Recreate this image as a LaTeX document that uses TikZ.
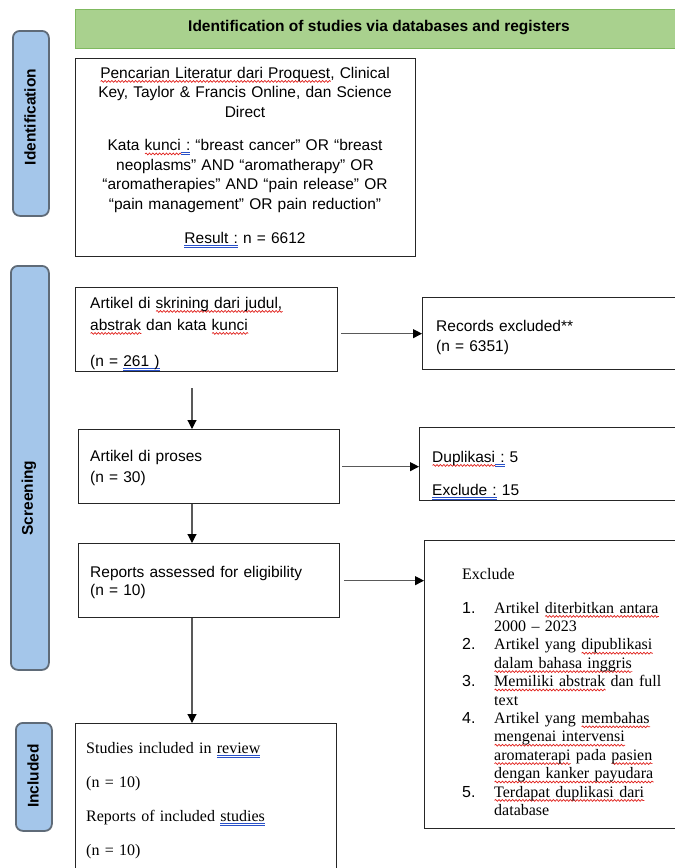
\documentclass[tikz,border=0pt]{standalone}
\usepackage{fontspec}
\setmainfont{Liberation Sans}
\newfontfamily\tnr{Liberation Serif}
\newfontfamily\arl{Liberation Sans}
\usetikzlibrary{arrows.meta,decorations.pathmorphing}
\definecolor{hdrfill}{HTML}{A9D18E}
\definecolor{hdrline}{HTML}{7FB95F}
\definecolor{lblfill}{HTML}{A4C6EA}
\definecolor{lblline}{HTML}{5F6B78}
\definecolor{arrline}{HTML}{595959}
\definecolor{boxline}{HTML}{262626}
\definecolor{wavered}{HTML}{E0201B}
\definecolor{ulblue}{HTML}{2850C8}
\newsavebox\ulbox
\newcommand\rw[1]{\sbox\ulbox{#1}\leavevmode\rlap{\tikz[baseline=0pt]\draw[wavered,line width=0.7pt,decorate,decoration={snake,amplitude=0.9pt,segment length=3.4pt}] (0pt,-3.4pt) -- (\wd\ulbox,-3.4pt);}\usebox\ulbox}
\newcommand\bu[1]{\sbox\ulbox{#1}\leavevmode\rlap{\color{ulblue}\rule[-2.4pt]{\wd\ulbox}{0.8pt}}\rlap{\color{ulblue}\rule[-4.6pt]{\wd\ulbox}{0.8pt}}\usebox\ulbox}
\newcommand\nm[1]{\makebox[32pt][l]{\arl #1}}
\begin{document}
\begin{tikzpicture}[x=1pt,y=-1pt,
  font=\fontsize{15.5}{19.5}\selectfont,
  box/.style={draw=boxline,line width=1.3pt,inner sep=0pt,anchor=north west},
  lbl/.style={draw=lblline,fill=lblfill,line width=1.8pt,rounded corners=7pt,inner sep=0pt,anchor=north west},
  lbltext/.style={rotate=90,font=\bfseries\fontsize{15.5}{18}\selectfont,inner sep=0pt},
  txt/.style={inner sep=0pt,anchor=base west,align=left},
  arr/.style={draw=arrline,line width=1.1pt,-{Triangle[length=9pt,width=9pt,fill=black,color=black]}}]
\useasboundingbox (0,0) rectangle (675,868);
% header
\node[draw=hdrline,fill=hdrfill,line width=1.3pt,anchor=north west,minimum width=620pt,minimum height=39pt,inner sep=0pt] (hdr) at (75,9) {};
\node[font=\bfseries\fontsize{15.5}{18}\selectfont,inner sep=0pt] (hdrt) at (379,28) {Identification of studies via databases and registers};
% side labels
\node[lbl,minimum width=36pt,minimum height=185pt] (lid) at (12,30) {};
\node[lbltext] (lidt) at (30,117) {Identification};
\node[lbl,minimum width=38pt,minimum height=404pt] (lsc) at (10,265) {};
\node[lbltext] (lsct) at (29,498) {Screening};
\node[lbl,minimum width=36pt,minimum height=108pt] (lin) at (15,722) {};
\node[lbltext] (lint) at (33,776) {Included};
% boxes
\node[box,minimum width=340pt,minimum height=198pt] (b1) at (75,58) {};
\node[box,minimum width=262pt,minimum height=84pt] (b2) at (75,287) {};
\node[box,minimum width=280pt,minimum height=72pt] (rec) at (422,297) {};
\node[box,minimum width=261pt,minimum height=74pt] (b3) at (78,429) {};
\node[box,minimum width=283pt,minimum height=73pt] (dup) at (419,427) {};
\node[box,minimum width=261pt,minimum height=74pt] (b4) at (78,543) {};
\node[box,minimum width=280pt,minimum height=288pt] (exc) at (424,540) {};
\node[box,minimum width=261pt,minimum height=160pt] (b5) at (75,723) {};
% texts
\node[inner sep=0pt,anchor=base,text width=330pt,align=center] (t1) at (245,78)
 {\rw{Pencarian Literatur dari Proquest}, Clinical\\ Key, Taylor \& Francis Online, dan Science\\ Direct\\[14pt]
  Kata \rw{kunci}\bu{ :} “breast cancer” OR “breast\\ neoplasms” AND “aromatherapy” OR\\
  “aromatherapies” AND “pain release” OR\\ “pain management” OR pain reduction”\\[15pt]
  \bu{Result :} n = 6612};
\node[txt,text width=240pt,font=\fontsize{15.5}{22}\selectfont] (t2) at (90,308)
 {Artikel di \rw{skrining dari judul,}\\ \rw{abstrak} dan kata \rw{kunci}\\[14pt] (n = \bu{261 )}};
\node[txt,text width=230pt,font=\fontsize{15.5}{20}\selectfont] (trec) at (436,331) {Records excluded**\\ (n = 6351)};
\node[txt,text width=240pt,font=\fontsize{15.5}{21}\selectfont] (t3) at (90,461) {Artikel di proses\\ (n = 30)};
\node[txt,text width=230pt,font=\fontsize{15.5}{20}\selectfont] (tdup) at (432,462) {\rw{Duplikasi}\bu{ :} 5\\[13pt] \bu{Exclude :} 15};
\node[txt,text width=240pt,font=\fontsize{15.5}{18}\selectfont] (t4) at (90,577) {Reports assessed for eligibility\\ (n = 10)};
\node[txt,text width=240pt,font=\tnr\fontsize{16}{18.4}\selectfont] (texc) at (462,579)
 {Exclude\\[15.6pt]
  \nm{1.}Artikel \rw{diterbitkan antara}\\
  \hspace*{32pt}2000 – 2023\\
  \nm{2.}Artikel yang \rw{dipublikasi}\\
  \hspace*{32pt}\rw{dalam bahasa inggris}\\
  \nm{3.}\rw{Memiliki abstrak} dan full\\
  \hspace*{32pt}text\\
  \nm{4.}Artikel yang \rw{membahas}\\
  \hspace*{32pt}\rw{mengenai intervensi}\\
  \hspace*{32pt}\rw{aromaterapi} pada \rw{pasien}\\
  \hspace*{32pt}\rw{dengan kanker payudara}\\
  \nm{5.}\rw{Terdapat duplikasi dari}\\
  \hspace*{32pt}database};
\node[txt,text width=240pt,font=\tnr\fontsize{16}{34}\selectfont] (t5) at (86,753)
 {Studies included in \bu{review}\\ (n = 10)\\ Reports of included \bu{studies}\\ (n = 10)};
% connectors
\coordinate (ax) at (192,0);
\draw[arr,shorten <=3pt] (b2.east |- rec.west) -- (rec.west);
\draw[arr,shorten <=16pt] (b2.south -| ax) -- (b3.north -| ax);
\draw[arr,shorten <=2pt] (b3.east) -- (b3.east -| dup.west);
\draw[arr] (b3.south -| ax) -- (b4.north -| ax);
\draw[arr,shorten <=4pt] (b4.east) -- (b4.east -| exc.west);
\draw[arr] (b4.south -| ax) -- (b5.north -| ax);
\end{tikzpicture}
\end{document}
